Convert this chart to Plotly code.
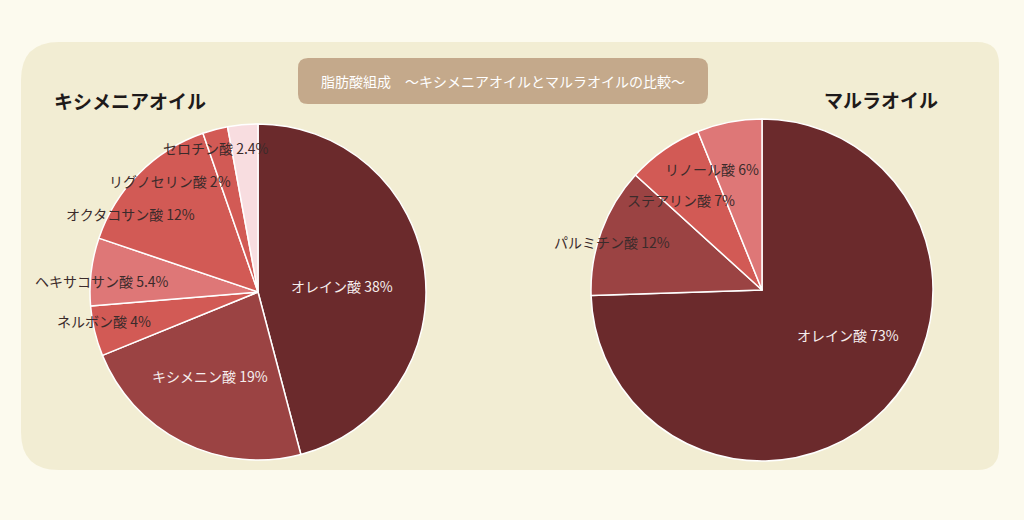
# Fatty acid composition: Ximenia oil vs Marula oil.

import plotly.graph_objects as go

# Data
ximenia_acids = ["オレイン酸", "キシメニン酸", "ネルボン酸", "ヘキサコサン酸",
                 "オクタコサン酸", "リグノセリン酸", "セロチン酸"]
ximenia_values = [38, 19, 4, 5.4, 12, 2, 2.4]

marula_acids = ["オレイン酸", "パルミチン酸", "ステアリン酸", "リノール酸"]
marula_values = [73, 12, 7, 6]

title_text = "脂肪酸組成　～キシメニアオイルとマルラオイルの比較～"
left_name = "キシメニアオイル"
right_name = "マルラオイル"

# Styles
W, H = 1024, 520
FONT = "Noto Sans CJK JP"
ximenia_colors = ["#6b2a2c", "#9b4343", "#d25a55", "#de7777", "#d25a55", "#d25a55", "#f8dde0"]
marula_colors = ["#6b2a2c", "#9b4343", "#d25a55", "#de7777"]
LIGHT_TXT, DARK_TXT = "#f6eeee", "#3b2b2b"
ximenia_text_colors = [LIGHT_TXT, LIGHT_TXT, DARK_TXT, DARK_TXT, DARK_TXT, DARK_TXT, DARK_TXT]
marula_text_colors = [LIGHT_TXT, DARK_TXT, DARK_TXT, DARK_TXT]

# label centres in pixels (same order as the data)
ximenia_label_pos = [(342, 286), (210, 376), (104, 321), (102, 281), (130, 214), (170, 181), (216, 148)]
marula_label_pos = [(848, 335), (612, 242), (681, 200), (712, 169)]


def px(x, y):
    return x / W, 1 - y / H


def rounded_path(x0, y0, x1, y1, rl, rr):
    """Rounded rectangle path in paper units (pixel input)."""
    pts = [
        ("M", x0 + rl, y0), ("L", x1 - rr, y0), ("Q", x1, y0, x1, y0 + rr),
        ("L", x1, y1 - rr), ("Q", x1, y1, x1 - rr, y1),
        ("L", x0 + rl, y1), ("Q", x0, y1, x0, y1 - rl),
        ("L", x0, y0 + rl), ("Q", x0, y0, x0 + rl, y0),
    ]
    out = []
    for p in pts:
        cmd = p[0]
        coords = p[1:]
        parts = []
        for i in range(0, len(coords), 2):
            a, b = px(coords[i], coords[i + 1])
            parts.append(f"{a:.5f},{b:.5f}")
        out.append(cmd + " ".join(parts))
    return " ".join(out) + " Z"


def pie_domain(x0, y0, x1, y1):
    return dict(x=[x0 / W, x1 / W], y=[1 - y1 / H, 1 - y0 / H])


fig = go.Figure()

fig.add_trace(go.Pie(
    labels=ximenia_acids, values=ximenia_values, sort=False,
    direction="clockwise", rotation=0, textinfo="none",
    marker=dict(colors=ximenia_colors, line=dict(color="white", width=1.5)),
    domain=pie_domain(90, 124, 426, 460), showlegend=False,
    hovertemplate="%{label} %{value}%<extra></extra>",
))
fig.add_trace(go.Pie(
    labels=marula_acids, values=marula_values, sort=False,
    direction="clockwise", rotation=0, textinfo="none",
    marker=dict(colors=marula_colors, line=dict(color="white", width=1.5)),
    domain=pie_domain(591, 118, 933, 462), showlegend=False,
    hovertemplate="%{label} %{value}%<extra></extra>",
))

annotations = []
for names, vals, tcols, pos in [(ximenia_acids, ximenia_values, ximenia_text_colors, ximenia_label_pos),
                                (marula_acids, marula_values, marula_text_colors, marula_label_pos)]:
    for n, v, tc, (lx, ly) in zip(names, vals, tcols, pos):
        ax, ay = px(lx, ly)
        annotations.append(dict(
            x=ax, y=ay, xref="paper", yref="paper", text=f"{n} {v}%",
            showarrow=False, xanchor="center", yanchor="middle",
            font=dict(family=FONT, size=14, color=tc),
        ))

# headings
for txt, (hx, hy) in [(left_name, (130, 101)), (right_name, (881, 100))]:
    ax, ay = px(hx, hy)
    annotations.append(dict(
        x=ax, y=ay, xref="paper", yref="paper", text=f"<b>{txt}</b>",
        showarrow=False, xanchor="center", yanchor="middle",
        font=dict(family=FONT, size=19, color="#1e1a1a"),
    ))
tx, ty = px(503, 81)
annotations.append(dict(
    x=tx, y=ty, xref="paper", yref="paper", text=title_text,
    showarrow=False, xanchor="center", yanchor="middle",
    font=dict(family=FONT, size=14, color="white"),
))

shapes = [
    dict(type="path", path=rounded_path(21, 42, 999, 470, 38, 22), xref="paper", yref="paper",
         fillcolor="#f2edd3", line=dict(width=0), layer="below"),
    dict(type="path", path=rounded_path(298, 58, 708, 104, 10, 10), xref="paper", yref="paper",
         fillcolor="#c4a98b", line=dict(width=0), layer="below"),
]

fig.update_layout(
    width=W, height=H,
    margin=dict(l=0, r=0, t=0, b=0),
    paper_bgcolor="#fcfaee",
    plot_bgcolor="#fcfaee",
    shapes=shapes,
    annotations=annotations,
    font=dict(family=FONT),
)

# drop the default page margin so the figure sits at the window origin
fig.write_html("out.html", post_script="document.body.style.margin='0';",
               config={"displayModeBar": False})
